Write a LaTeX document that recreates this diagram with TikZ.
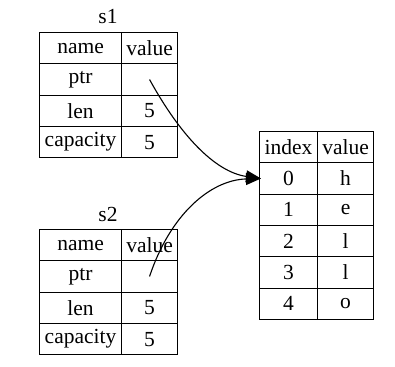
\documentclass[tikz,border=0pt]{standalone}
\usepackage{fontspec}
\setmainfont{Liberation Serif}
\usetikzlibrary{arrows.meta}
\begin{document}
\begin{tikzpicture}[x=1pt,y=-1pt,
  cell/.style={draw, line width=1.1pt, inner sep=0pt, anchor=north west,
    minimum height=31.3pt, font=\fontsize{21.5}{25}\selectfont},
  namecol/.style={cell, minimum width=82pt},
  valcol/.style={cell, minimum width=56pt},
  idxcol/.style={cell, minimum width=58pt},
  title/.style={font=\fontsize{21.5}{25}\selectfont, inner sep=0pt},
  link/.style={line width=1.1pt, -{Triangle[length=15pt,width=12pt]}}]
\useasboundingbox (0,0) rectangle (395,366);
% s1
\node[title] (s1t) at (108,17) {s1};
\node[namecol] (s1a) at (39,32) {name};
\node[valcol]  (s1av) at (121,32) {value};
\node[namecol] (s1p) at (39,63.3) {ptr};
\node[valcol]  (s1pv) at (121,63.3) {};
\node[namecol] (s1l) at (39,94.6) {len};
\node[valcol]  (s1lv) at (121,94.6) {5};
\node[namecol] (s1c) at (39,125.9) {capacity};
\node[valcol]  (s1cv) at (121,125.9) {5};
% s2
\node[title] (s2t) at (108,214) {s2};
\node[namecol] (s2a) at (39,229) {name};
\node[valcol]  (s2av) at (121,229) {value};
\node[namecol] (s2p) at (39,260.3) {ptr};
\node[valcol]  (s2pv) at (121,260.3) {};
\node[namecol] (s2l) at (39,291.6) {len};
\node[valcol]  (s2lv) at (121,291.6) {5};
\node[namecol] (s2c) at (39,322.9) {capacity};
\node[valcol]  (s2cv) at (121,322.9) {5};
% heap
\node[idxcol] (hh) at (259,131) {index};
\node[valcol] (hhv) at (317,131) {value};
\node[idxcol] (h0) at (259,162.3) {0};
\node[valcol] (h0v) at (317,162.3) {h};
\node[idxcol] (h1) at (259,193.6) {1};
\node[valcol] (h1v) at (317,193.6) {e};
\node[idxcol] (h2) at (259,224.9) {2};
\node[valcol] (h2v) at (317,224.9) {l};
\node[idxcol] (h3) at (259,256.2) {3};
\node[valcol] (h3v) at (317,256.2) {l};
\node[idxcol] (h4) at (259,287.5) {4};
\node[valcol] (h4v) at (317,287.5) {o};
% pointers
\draw[link] (s1pv.center) .. controls (180,135) and (215,172) .. ([xshift=2pt]h0.west);
\draw[link] (s2pv.center) .. controls (170,215) and (210,180) .. ([xshift=2pt]h0.west);
\end{tikzpicture}
\end{document}
